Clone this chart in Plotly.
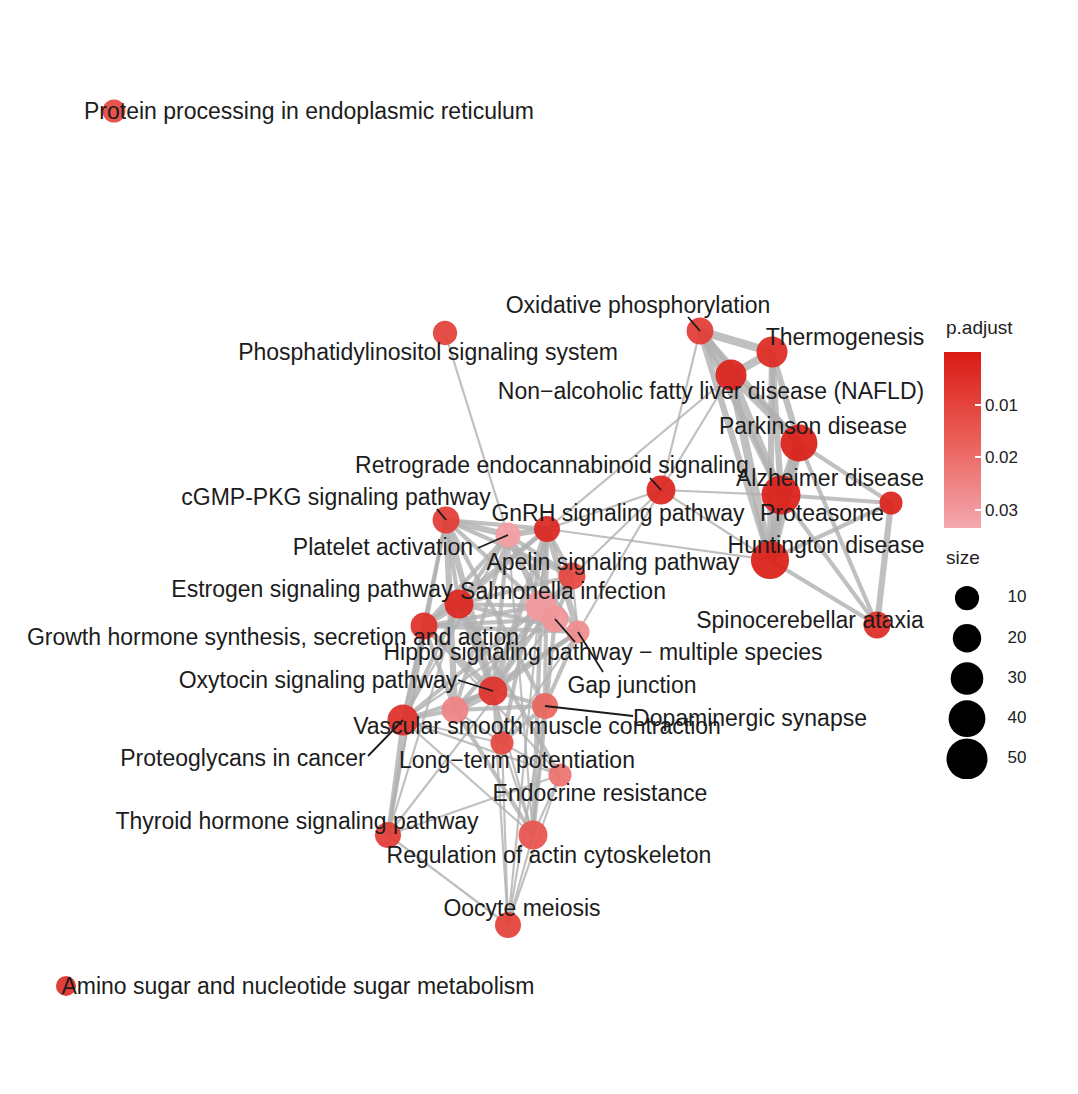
import plotly.graph_objects as go

# ---------------- data ----------------
terms = [
    "Protein processing in endoplasmic reticulum",
    "Amino sugar and nucleotide sugar metabolism",
    "Phosphatidylinositol signaling system",
    "Oxidative phosphorylation",
    "Thermogenesis",
    "Non-alcoholic fatty liver disease (NAFLD)",
    "Parkinson disease",
    "Alzheimer disease",
    "Proteasome",
    "Huntington disease",
    "Retrograde endocannabinoid signaling",
    "Spinocerebellar ataxia",
    "cGMP-PKG signaling pathway",
    "Platelet activation",
    "GnRH signaling pathway",
    "Apelin signaling pathway",
    "Estrogen signaling pathway",
    "Salmonella infection",
    "Hippo signaling pathway - multiple species",
    "Gap junction",
    "Growth hormone synthesis, secretion and action",
    "Oxytocin signaling pathway",
    "Vascular smooth muscle contraction",
    "Dopaminergic synapse",
    "Proteoglycans in cancer",
    "Long-term potentiation",
    "Endocrine resistance",
    "Thyroid hormone signaling pathway",
    "Regulation of actin cytoskeleton",
    "Oocyte meiosis",
]
# network layout coordinates
node_x = [114, 66, 445, 700, 772, 731, 799, 781, 891, 770, 661, 877, 446, 508, 547, 572,
          459, 541, 555, 578, 424, 493, 455, 545, 403, 502, 560, 388, 533, 508]
node_y = [111, 986, 333, 331, 352, 375, 443, 495, 503, 560, 490, 625, 520, 535, 529, 576,
          604, 606, 619, 632, 626, 691, 710, 706, 720, 743, 775, 835, 835, 925]
gene_count = [12, 5, 15, 21, 31, 31, 45, 50, 12, 48, 26, 21, 21, 17, 19, 21,
              26, 31, 21, 12, 21, 26, 21, 19, 31, 12, 12, 19, 26, 19]
p_adjust = [0.011, 0.005, 0.009, 0.008, 0.004, 0.002, 0.001, 0.001, 0.002, 0.001, 0.003, 0.004,
            0.008, 0.031, 0.003, 0.011, 0.003, 0.030, 0.029, 0.027, 0.005, 0.006, 0.025, 0.018,
            0.005, 0.011, 0.021, 0.008, 0.014, 0.009]

T = {t: i for i, t in enumerate(terms)}
edges = [  # (term a, term b, similarity weight)
    ("Oxidative phosphorylation", "Thermogenesis", 4),
    ("Oxidative phosphorylation", "Non-alcoholic fatty liver disease (NAFLD)", 5),
    ("Thermogenesis", "Non-alcoholic fatty liver disease (NAFLD)", 4),
    ("Oxidative phosphorylation", "Parkinson disease", 3),
    ("Oxidative phosphorylation", "Alzheimer disease", 3),
    ("Oxidative phosphorylation", "Huntington disease", 3),
    ("Thermogenesis", "Parkinson disease", 3),
    ("Thermogenesis", "Alzheimer disease", 3),
    ("Thermogenesis", "Huntington disease", 3),
    ("Non-alcoholic fatty liver disease (NAFLD)", "Parkinson disease", 4),
    ("Non-alcoholic fatty liver disease (NAFLD)", "Alzheimer disease", 4),
    ("Non-alcoholic fatty liver disease (NAFLD)", "Huntington disease", 4),
    ("Parkinson disease", "Alzheimer disease", 5),
    ("Parkinson disease", "Huntington disease", 5),
    ("Alzheimer disease", "Huntington disease", 5),
    ("Proteasome", "Parkinson disease", 2),
    ("Proteasome", "Alzheimer disease", 2),
    ("Proteasome", "Huntington disease", 2),
    ("Spinocerebellar ataxia", "Proteasome", 3),
    ("Spinocerebellar ataxia", "Huntington disease", 2),
    ("Spinocerebellar ataxia", "Alzheimer disease", 2),
    ("Spinocerebellar ataxia", "Parkinson disease", 2),
    ("Oxidative phosphorylation", "Retrograde endocannabinoid signaling", 1),
    ("Non-alcoholic fatty liver disease (NAFLD)", "Retrograde endocannabinoid signaling", 1),
    ("Retrograde endocannabinoid signaling", "Alzheimer disease", 1),
    ("Retrograde endocannabinoid signaling", "Huntington disease", 1),
    ("Retrograde endocannabinoid signaling", "GnRH signaling pathway", 1),
    ("Retrograde endocannabinoid signaling", "Apelin signaling pathway", 1),
    ("Retrograde endocannabinoid signaling", "Gap junction", 1),
    ("GnRH signaling pathway", "Huntington disease", 1),
    ("Non-alcoholic fatty liver disease (NAFLD)", "GnRH signaling pathway", 1),
    ("Phosphatidylinositol signaling system", "Platelet activation", 1),
    ("cGMP-PKG signaling pathway", "Platelet activation", 3),
    ("cGMP-PKG signaling pathway", "GnRH signaling pathway", 2),
    ("cGMP-PKG signaling pathway", "Estrogen signaling pathway", 2),
    ("cGMP-PKG signaling pathway", "Growth hormone synthesis, secretion and action", 2),
    ("cGMP-PKG signaling pathway", "Oxytocin signaling pathway", 3),
    ("cGMP-PKG signaling pathway", "Vascular smooth muscle contraction", 3),
    ("cGMP-PKG signaling pathway", "Apelin signaling pathway", 2),
    ("cGMP-PKG signaling pathway", "Salmonella infection", 2),
    ("cGMP-PKG signaling pathway", "Proteoglycans in cancer", 1),
    ("cGMP-PKG signaling pathway", "Thyroid hormone signaling pathway", 1),
    ("cGMP-PKG signaling pathway", "Dopaminergic synapse", 2),
    ("Platelet activation", "GnRH signaling pathway", 3),
    ("Platelet activation", "Estrogen signaling pathway", 2),
    ("Platelet activation", "Oxytocin signaling pathway", 2),
    ("Platelet activation", "Vascular smooth muscle contraction", 2),
    ("Platelet activation", "Apelin signaling pathway", 2),
    ("Platelet activation", "Salmonella infection", 3),
    ("Platelet activation", "Growth hormone synthesis, secretion and action", 2),
    ("Platelet activation", "Gap junction", 2),
    ("Platelet activation", "Regulation of actin cytoskeleton", 1),
    ("Platelet activation", "Proteoglycans in cancer", 1),
    ("GnRH signaling pathway", "Estrogen signaling pathway", 2),
    ("GnRH signaling pathway", "Growth hormone synthesis, secretion and action", 2),
    ("GnRH signaling pathway", "Oxytocin signaling pathway", 3),
    ("GnRH signaling pathway", "Gap junction", 3),
    ("GnRH signaling pathway", "Long-term potentiation", 2),
    ("GnRH signaling pathway", "Apelin signaling pathway", 2),
    ("GnRH signaling pathway", "Dopaminergic synapse", 2),
    ("GnRH signaling pathway", "Oocyte meiosis", 1),
    ("GnRH signaling pathway", "Salmonella infection", 2),
    ("Apelin signaling pathway", "Oxytocin signaling pathway", 2),
    ("Apelin signaling pathway", "Vascular smooth muscle contraction", 2),
    ("Apelin signaling pathway", "Estrogen signaling pathway", 2),
    ("Apelin signaling pathway", "Hippo signaling pathway - multiple species", 2),
    ("Apelin signaling pathway", "Gap junction", 1),
    ("Estrogen signaling pathway", "Growth hormone synthesis, secretion and action", 3),
    ("Estrogen signaling pathway", "Oxytocin signaling pathway", 3),
    ("Estrogen signaling pathway", "Endocrine resistance", 2),
    ("Estrogen signaling pathway", "Thyroid hormone signaling pathway", 1),
    ("Estrogen signaling pathway", "Proteoglycans in cancer", 2),
    ("Estrogen signaling pathway", "Salmonella infection", 2),
    ("Estrogen signaling pathway", "Gap junction", 2),
    ("Salmonella infection", "Hippo signaling pathway - multiple species", 3),
    ("Salmonella infection", "Regulation of actin cytoskeleton", 2),
    ("Salmonella infection", "Proteoglycans in cancer", 2),
    ("Salmonella infection", "Oxytocin signaling pathway", 2),
    ("Salmonella infection", "Growth hormone synthesis, secretion and action", 2),
    ("Hippo signaling pathway - multiple species", "Proteoglycans in cancer", 1),
    ("Hippo signaling pathway - multiple species", "Regulation of actin cytoskeleton", 2),
    ("Hippo signaling pathway - multiple species", "Thyroid hormone signaling pathway", 1),
    ("Hippo signaling pathway - multiple species", "Growth hormone synthesis, secretion and action", 2),
    ("Gap junction", "Oxytocin signaling pathway", 2),
    ("Gap junction", "Vascular smooth muscle contraction", 2),
    ("Gap junction", "Dopaminergic synapse", 2),
    ("Gap junction", "Long-term potentiation", 1),
    ("Gap junction", "Growth hormone synthesis, secretion and action", 2),
    ("Growth hormone synthesis, secretion and action", "Oxytocin signaling pathway", 3),
    ("Growth hormone synthesis, secretion and action", "Thyroid hormone signaling pathway", 2),
    ("Growth hormone synthesis, secretion and action", "Proteoglycans in cancer", 2),
    ("Growth hormone synthesis, secretion and action", "Endocrine resistance", 1),
    ("Growth hormone synthesis, secretion and action", "Vascular smooth muscle contraction", 2),
    ("Oxytocin signaling pathway", "Vascular smooth muscle contraction", 4),
    ("Oxytocin signaling pathway", "Dopaminergic synapse", 2),
    ("Oxytocin signaling pathway", "Long-term potentiation", 2),
    ("Oxytocin signaling pathway", "Regulation of actin cytoskeleton", 1),
    ("Oxytocin signaling pathway", "Proteoglycans in cancer", 2),
    ("Oxytocin signaling pathway", "Oocyte meiosis", 1),
    ("Vascular smooth muscle contraction", "Dopaminergic synapse", 2),
    ("Vascular smooth muscle contraction", "Proteoglycans in cancer", 2),
    ("Vascular smooth muscle contraction", "Regulation of actin cytoskeleton", 2),
    ("Vascular smooth muscle contraction", "Long-term potentiation", 1),
    ("Dopaminergic synapse", "Long-term potentiation", 2),
    ("Dopaminergic synapse", "Oocyte meiosis", 1),
    ("Dopaminergic synapse", "Regulation of actin cytoskeleton", 1),
    ("Proteoglycans in cancer", "Thyroid hormone signaling pathway", 2),
    ("Proteoglycans in cancer", "Regulation of actin cytoskeleton", 1),
    ("Proteoglycans in cancer", "Endocrine resistance", 1),
    ("Proteoglycans in cancer", "Long-term potentiation", 1),
    ("Long-term potentiation", "Oocyte meiosis", 1),
    ("Long-term potentiation", "Regulation of actin cytoskeleton", 1),
    ("Long-term potentiation", "Endocrine resistance", 1),
    ("Endocrine resistance", "Thyroid hormone signaling pathway", 1),
    ("Endocrine resistance", "Regulation of actin cytoskeleton", 1),
    ("Endocrine resistance", "Oocyte meiosis", 1),
    ("Regulation of actin cytoskeleton", "Oocyte meiosis", 1),
    ("Thyroid hormone signaling pathway", "Oocyte meiosis", 1),
]

size_breaks = [10, 20, 30, 40, 50]
p_ticks = [0.01, 0.02, 0.03]

# ---------------- styling ----------------
P_MAX = 0.0334
colorscale = [[0.0, "#f4a8b0"], [0.5, "#ea5f58"], [1.0, "#da1a14"]]
FONT = "Liberation Sans, Arial"
TEXT_DY = 2


def diam(s):
    return 18 + 0.42 * s


# label placement (text centre) plus optional leader line end
label_pos = {
    "Protein processing in endoplasmic reticulum": (309, 111, None),
    "Amino sugar and nucleotide sugar metabolism": (298, 986, None),
    "Phosphatidylinositol signaling system": (428, 352, None),
    "Oxidative phosphorylation": (638, 305, (688, 317)),
    "Thermogenesis": (845, 337, None),
    "Non-alcoholic fatty liver disease (NAFLD)": (711, 391, None),
    "Parkinson disease": (813, 426, None),
    "Alzheimer disease": (830, 478, None),
    "Proteasome": (822, 513, None),
    "Huntington disease": (826, 545, None),
    "Retrograde endocannabinoid signaling": (552, 465, (650, 478)),
    "Spinocerebellar ataxia": (810, 620, None),
    "cGMP-PKG signaling pathway": (336, 497, (437, 509)),
    "Platelet activation": (383, 547, (478, 548)),
    "GnRH signaling pathway": (618, 513, None),
    "Apelin signaling pathway": (613, 562, None),
    "Estrogen signaling pathway": (312, 589, None),
    "Salmonella infection": (563, 591, None),
    "Hippo signaling pathway - multiple species": (603, 652, (575, 642)),
    "Gap junction": (632, 685, (603, 672)),
    "Growth hormone synthesis, secretion and action": (273, 637, None),
    "Oxytocin signaling pathway": (318, 680, (458, 680)),
    "Vascular smooth muscle contraction": (537, 726, None),
    "Dopaminergic synapse": (750, 718, (633, 716)),
    "Proteoglycans in cancer": (243, 758, (368, 756)),
    "Long-term potentiation": (517, 760, None),
    "Endocrine resistance": (600, 793, None),
    "Thyroid hormone signaling pathway": (297, 821, None),
    "Regulation of actin cytoskeleton": (549, 855, None),
    "Oocyte meiosis": (522, 908, None),
}

fig = go.Figure()

# edges grouped by weight
for w in sorted(set(e[2] for e in edges)):
    xs, ys = [], []
    for a, b, ww in edges:
        if ww != w:
            continue
        xs += [node_x[T[a]], node_x[T[b]], None]
        ys += [node_y[T[a]], node_y[T[b]], None]
    fig.add_trace(go.Scatter(x=xs, y=ys, mode="lines",
                             line=dict(color="rgba(176,176,176,0.8)", width=2.2 + 2.0 * (w - 1)),
                             hoverinfo="skip", showlegend=False))

# nodes
fig.add_trace(go.Scatter(
    x=node_x, y=node_y, mode="markers",
    marker=dict(size=[diam(s) for s in gene_count],
                color=[-p for p in p_adjust], cmin=-P_MAX, cmax=0,
                colorscale=colorscale, opacity=0.93,
                line=dict(width=0),
                showscale=True,
                colorbar=dict(x=944 / 1078, xanchor="left", xpad=0, ypad=0,
                              y=1 - 352 / 1094, yanchor="top",
                              lenmode="pixels", len=176, thickness=37,
                              outlinewidth=0, ticks="inside", ticklen=6,
                              tickcolor="white", tickwidth=1.5,
                              tickvals=[-p for p in p_ticks],
                              ticktext=[f"{p:.2f}" for p in p_ticks],
                              tickfont=dict(size=17, color="#222", family=FONT))),
    text=terms, hoverinfo="text", showlegend=False))

# leader lines
lx, ly = [], []
for t in terms:
    cx, cy, lead = label_pos[t]
    if lead is not None:
        lx += [node_x[T[t]], lead[0], None]
        ly += [node_y[T[t]], lead[1], None]
fig.add_trace(go.Scatter(x=lx, y=ly, mode="lines", line=dict(color="#1a1a1a", width=1.8),
                         hoverinfo="skip", showlegend=False))

# labels
fig.add_trace(go.Scatter(
    x=[label_pos[t][0] for t in terms], y=[label_pos[t][1] + TEXT_DY for t in terms],
    mode="text",
    text=[t.replace("-", "\u2212") if t.startswith(("Non", "Long", "Hippo")) else t for t in terms],
    textposition="middle center",
    textfont=dict(size=23, color="#1c1c1c", family=FONT),
    hoverinfo="skip", showlegend=False))

# size legend
fig.add_trace(go.Scatter(
    x=[0] * len(size_breaks), y=size_breaks, mode="markers",
    marker=dict(size=[diam(s) + 2 for s in size_breaks], color="#000000", opacity=1,
                line=dict(width=0)),
    xaxis="x2", yaxis="y2", hoverinfo="skip", showlegend=False))
fig.add_trace(go.Scatter(
    x=[2] * len(size_breaks), y=size_breaks, mode="text",
    text=[str(s) for s in size_breaks], textposition="middle center",
    textfont=dict(size=17, color="#222", family=FONT),
    xaxis="x2", yaxis="y2", hoverinfo="skip", showlegend=False))

fig.update_layout(
    width=1078, height=1094,
    margin=dict(l=0, r=0, t=0, b=0),
    paper_bgcolor="white", plot_bgcolor="rgba(0,0,0,0)",
    xaxis=dict(range=[0, 1078], visible=False, domain=[0, 1]),
    yaxis=dict(range=[1094, 0], visible=False, domain=[0, 1]),
    xaxis2=dict(range=[-1, 3], domain=[942 / 1078, 1042 / 1078], visible=False, anchor="y2"),
    yaxis2=dict(range=[55, 5], domain=[1 - 779 / 1094, 1 - 578 / 1094], visible=False, anchor="x2"),
    annotations=[
        dict(text="p.adjust", x=944 / 1078, y=1 - 327 / 1094, xref="paper", yref="paper",
             xanchor="left", yanchor="middle", showarrow=False,
             font=dict(size=19, color="#222", family=FONT)),
        dict(text="size", x=944 / 1078, y=1 - 557 / 1094, xref="paper", yref="paper",
             xanchor="left", yanchor="middle", showarrow=False,
             font=dict(size=19, color="#222", family=FONT)),
    ],
)

fig.write_html("out.html")
